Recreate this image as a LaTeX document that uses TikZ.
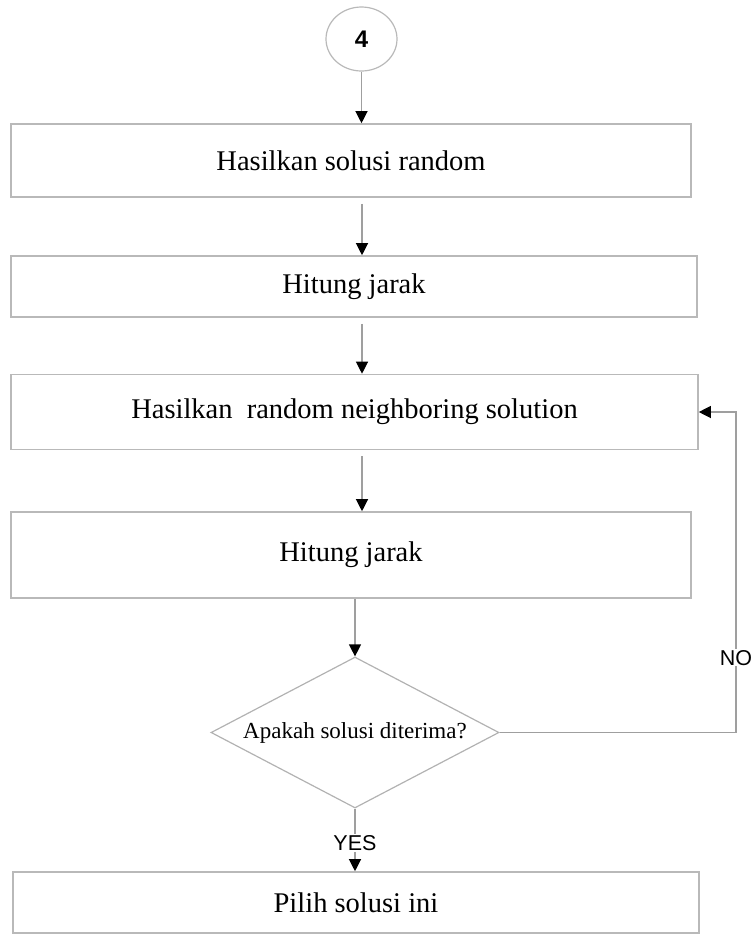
\documentclass[tikz,border=0pt]{standalone}
\usepackage{fontspec}
\setmainfont{Liberation Serif}
\newfontfamily\arialfont{Liberation Sans}
\usetikzlibrary{arrows.meta,shapes.geometric}
\begin{document}
\begin{tikzpicture}[x=1pt,y=-1pt,
  box/.style={draw=gray!55, line width=1.6pt, fill=white, inner sep=0pt,
    font=\fontsize{28.5}{33}\selectfont},
  conn/.style={draw=gray!75, line width=1.2pt},
  arr/.style={conn, -{Triangle[width=12pt,length=12pt,color=black]}},
  lbl/.style={fill=white, inner sep=1pt, font=\arialfont\fontsize{21.5}{24}\selectfont}]
\useasboundingbox (0,0) rectangle (752,935);
\node[draw=gray!55, line width=1.2pt, ellipse, minimum width=71pt, minimum height=64pt, inner sep=0pt,
  font=\arialfont\bfseries\fontsize{24}{28}\selectfont] (c) at (361.5,39) {4};
\node[box, minimum width=680pt, minimum height=73pt] (b1) at (351,160.5) {Hasilkan solusi random};
\node[box, minimum width=686pt, minimum height=61pt] (b2) at (354,286.5) {Hitung jarak};
\node[box, minimum width=687pt, minimum height=75pt] (b3) at (354.5,412) {Hasilkan \ random neighboring solution};
\node[box, minimum width=680pt, minimum height=86pt] (b4) at (351,555) {Hitung jarak};
\node[draw=gray!60, line width=1.2pt, diamond, aspect=1.9, minimum width=288pt, minimum height=151pt, inner sep=0pt,
  font=\fontsize{23}{27}\selectfont] (d) at (355,732.5) {Apakah solusi diterima?};
\node[box, minimum width=686pt, minimum height=61pt] (b5) at (356,902.5) {Pilih solusi ini};
\coordinate (x1) at (362,0);
\coordinate (r) at (736,0);
\draw[arr] (c.south) -- (b1.north -| c.south);
\draw[arr] ([yshift=-6pt]b1.south -| x1) -- (b2.north -| x1);
\draw[arr] ([yshift=-6pt]b2.south -| x1) -- (b3.north -| x1);
\draw[arr] ([yshift=-6pt]b3.south -| x1) -- (b4.north -| x1);
\draw[arr] (b4.south -| d.north) -- (d.north);
\draw[arr] (d.south) -- node[lbl, pos=0.55] {YES} (b5.north -| d.south);
\draw[arr] (d.east) -- (d.east -| r) -- node[lbl, pos=0.233] {NO} (b3.east -| r) -- (b3.east);
\end{tikzpicture}
\end{document}
